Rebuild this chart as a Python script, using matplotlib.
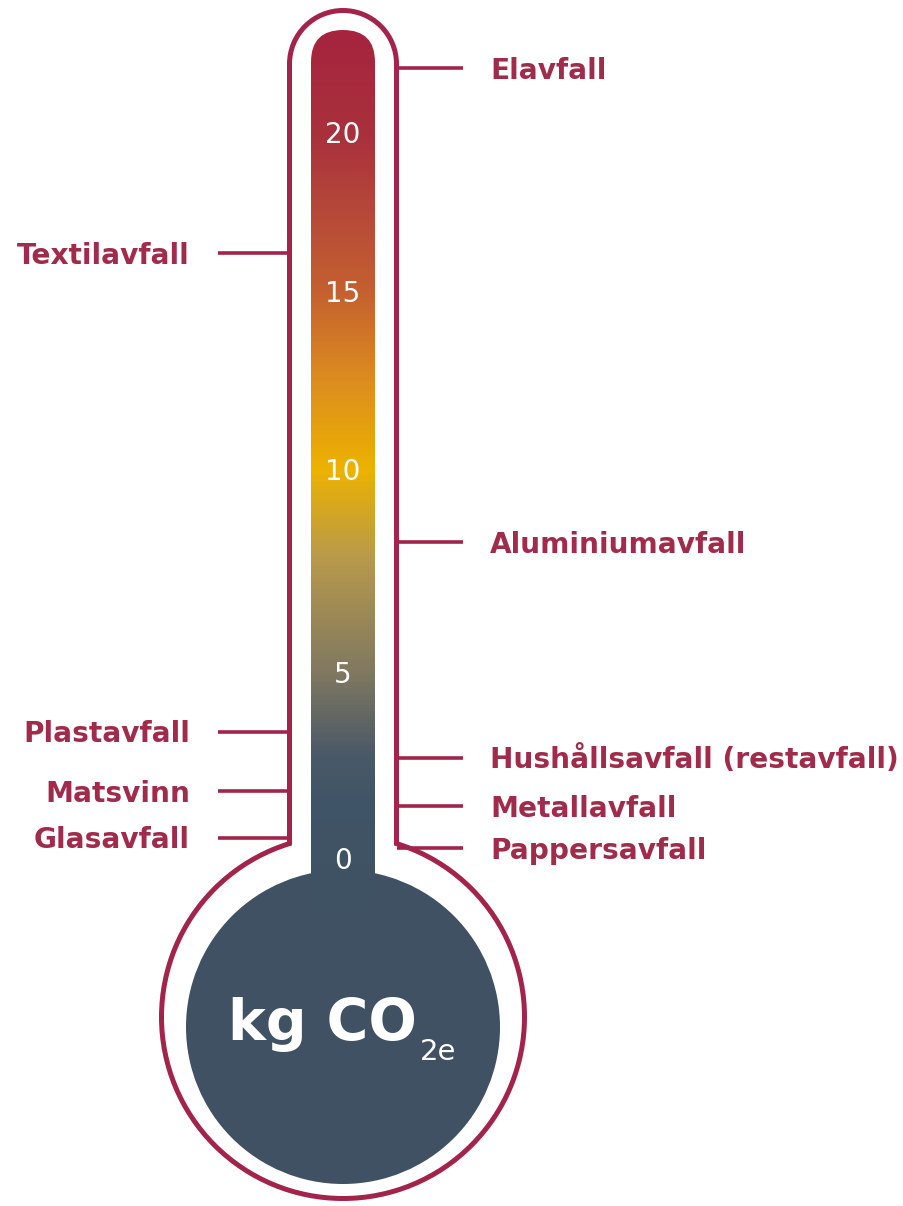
import numpy as np
import matplotlib
matplotlib.use("Agg")
import matplotlib.pyplot as plt
from matplotlib.patches import Circle, Rectangle, FancyBboxPatch
from matplotlib.colors import LinearSegmentedColormap

# kg CO2e per kg waste
left_labels = ["Textilavfall", "Plastavfall", "Matsvinn", "Glasavfall"]
left_values = [16.2, 3.4, 1.8, 0.55]
right_labels = ["Elavfall", "Aluminiumavfall", "Hushållsavfall (restavfall)",
                "Metallavfall", "Pappersavfall"]
right_values = [22.0, 8.2, 2.7, 1.4, 0.27]
scale_ticks = [0, 5, 10, 15, 20]

# the printed scale is hand drawn and not linear: pixel row of every tick
tick_rows = [858, 672, 469, 291, 132]

RED = "#A3244A"
TEXT_RED = "#A02B4B"
SLATE = "#3F5163"
FONT = "DejaVu Sans"

knot_v = np.array([-10.0] + scale_ticks + [30.0])
knot_px = np.array([858 + 10 * 37.2] + tick_rows + [132 - 10 * 31.8])


def fwd(v):
    return -np.interp(v, knot_v, knot_px)


def inv(y):
    return np.interp(-np.asarray(y), knot_px[::-1], knot_v[::-1])


fig = plt.figure(figsize=(9.04, 12.06), dpi=100)

# background: thermometer drawing in pixel units
bg = fig.add_axes([0, 0, 1, 1])
bg.set_xlim(0, 904)
bg.set_ylim(1206, 0)
bg.axis("off")

for pad, col in [(0, RED), (5, "white")]:
    bg.add_patch(Rectangle((287 + pad, 64), 112 - 2 * pad, 840, color=col, lw=0))
    bg.add_patch(Circle((343, 64), 56 - pad, color=col, lw=0))
    bg.add_patch(Circle((343, 1017), 184 - pad, color=col, lw=0))
bg.add_patch(Circle((343, 1027), 157, color=SLATE, lw=0))

tube = FancyBboxPatch((311, 30), 64, 900, boxstyle="round,pad=0,rounding_size=32",
                      transform=bg.transData)

bg.text(417, 1040, "kg CO", ha="right", va="baseline", color="white",
        fontsize=41, fontweight="bold", family=FONT)
bg.text(420, 1060, "2e", ha="left", va="baseline", color="white",
        fontsize=21, family=FONT)

# data layer: value scale of the thermometer
ax = fig.add_axes([0, 0, 1, 1], facecolor="none")
ax.set_xlim(0, 904)
ax.set_yscale("function", functions=(fwd, inv))
ax.set_ylim(inv(-1206.0), inv(0.0))
ax.axis("off")

grad_v = [-2.0, 1.5, 2.8, 5.0, 7.8, 10.0, 12.5, 15.0, 17.9, 20.0, 24.2]
grad_c = ["#3F5163", "#3F5466", "#4B5966", "#807860", "#B7994A", "#EDB200",
          "#DC8C1F", "#C4602F", "#B3443A", "#A8303B", "#A5203F"]
vmin, vmax = grad_v[0], grad_v[-1]
cmap = LinearSegmentedColormap.from_list(
    "thermo", [((v - vmin) / (vmax - vmin), c) for v, c in zip(grad_v, grad_c)])
yy = np.linspace(vmin, vmax, 600)
cc = ((yy[:-1] + yy[1:]) / 2).reshape(-1, 1)
mesh = ax.pcolormesh([311, 375], yy, cc, cmap=cmap, vmin=vmin, vmax=vmax,
                     shading="flat", antialiased=False)
mesh.set_clip_path(tube)

for t in scale_ticks:
    ax.annotate(str(t), (343, t), xytext=(0, -7.6), textcoords="offset points",
                ha="center", va="baseline", color="white", fontsize=20, family=FONT)

ax.hlines(left_values, 218, 289, color=RED, lw=2.6)
ax.hlines(right_values, 397, 463, color=RED, lw=2.6)

for lab, v in zip(left_labels, left_values):
    ax.annotate(lab, (190, v), xytext=(0, -7.8), textcoords="offset points",
                ha="right", va="baseline", color=TEXT_RED, fontsize=20.2,
                fontweight="bold", family=FONT)
for lab, v in zip(right_labels, right_values):
    ax.annotate(lab, (490, v), xytext=(0, -7.8), textcoords="offset points",
                ha="left", va="baseline", color=TEXT_RED, fontsize=20.2,
                fontweight="bold", family=FONT)

fig.savefig("out.png", dpi=100, facecolor="white")
